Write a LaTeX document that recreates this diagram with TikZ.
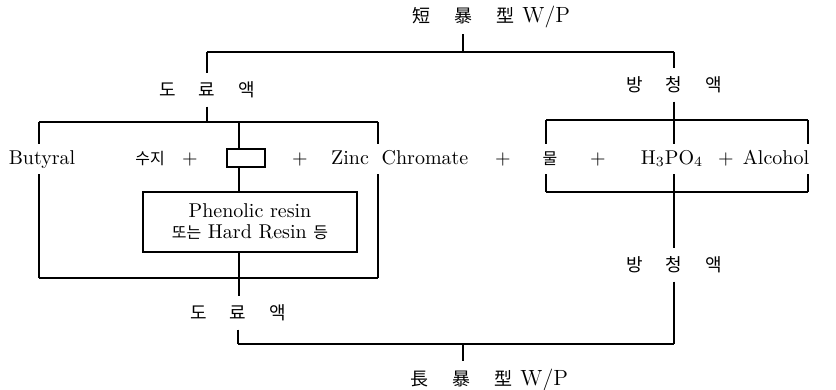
\documentclass[tikz,border=0pt]{standalone}
\usepackage{fontspec}
\newfontfamily\kr{Noto Sans CJK KR}
\usepackage{tikz}
\tikzset{item/.style = {anchor = base, inner sep = 3pt, text height = 7pt, text depth = 2pt}}
\tikzset{mixlabel/.style = {inner sep = 4pt, font = \kr\fontsize{9}{10}\selectfont}}
\tikzset{wptitle/.style = {anchor = west, inner sep = 0pt, font = \fontsize{11}{12}\selectfont}}
\tikzset{boxed/.style = {draw, line width = 0.6pt}}
\tikzset{edge/.style = {-, line width = 0.6pt}}
\newcommand{\kos}{\kr\fontsize{8}{10}\selectfont}
\newcommand{\kot}{\kr\fontsize{9}{10}\selectfont}

\begin{document}
\begin{tikzpicture}[x = 0.5pt, y = -0.5pt]
	\useasboundingbox (0, 0) rectangle (836, 390);

	% titles
	\node[wptitle] (stitle) at (412, 17) {{\kot 短\hspace{12pt}暴\hspace{12pt}型}\hspace{4pt}W/P};
	\node[wptitle] (ltitle) at (410, 380) {{\kot 長\hspace{12pt}暴\hspace{12pt}型}\hspace{4pt}W/P};

	% labels
	\node[mixlabel] (dl1) at (207, 90) {도\hspace{11.5pt}료\hspace{11.5pt}액};
	\node[mixlabel] (bc1) at (674, 85) {방\hspace{11.5pt}청\hspace{11.5pt}액};
	\node[mixlabel] (bc2) at (674, 265) {방\hspace{11.5pt}청\hspace{11.5pt}액};
	\node[mixlabel] (dl2) at (238, 313) {도\hspace{11.5pt}료\hspace{11.5pt}액};

	% main row
	\node[item] (but) at (42, 164) {Butyral};
	\node[item] (suji) at (150, 164) {\kos 수지};
	\node[item] (p1) at (190, 164) {$+$};
	\node[boxed, minimum width = 19pt, minimum height = 9pt, inner sep = 0pt] (sbox) at (246, 158) {};
	\node[item] (p2) at (300, 164) {$+$};
	\node[item] (zinc) at (350, 164) {Zinc};
	\node[item] (chrom) at (425, 164) {Chromate};
	\node[item] (p3) at (503, 164) {$+$};
	\node[item] (mul) at (550, 164) {\kos 물};
	\node[item] (p4) at (598, 164) {$+$};
	\node[item] (hpo) at (672, 164) {H$_3$PO$_4$};
	\node[item] (p5) at (726, 164) {$+$};
	\node[item] (alc) at (776, 164) {Alcohol};

	\node[boxed, align = center, minimum width = 107pt, minimum height = 30pt, inner sep = 2pt,
		font = \fontsize{10}{10.5}\selectfont] (phen) at (250, 222) {Phenolic resin\\{\kos 또는} Hard Resin {\kos 등}};

	% junctions
	\coordinate (tl) at (207, 52);
	\coordinate (tr) at (674, 52);
	\coordinate (tj) at (463, 52);
	\coordinate (bl) at (238, 344);
	\coordinate (br) at (674, 344);
	\coordinate (bj) at (463, 344);
	\coordinate (lsp) at (239, 122);

	% brackets
	\coordinate (lb1) at (39, 122);
	\coordinate (lb2) at (378, 122);
	\coordinate (lb3) at (39, 278);
	\coordinate (lb4) at (378, 278);
	\coordinate (rb1) at (546, 120);
	\coordinate (rb2) at (808, 120);
	\coordinate (rb3) at (546, 192);
	\coordinate (rb4) at (808, 192);

	\draw[edge] (lb1) -- (lb2);
	\draw[edge] (lb3) -- (lb4);
	\draw[edge] (lb1) -- (lb1 |- but.north);
	\draw[edge] (lb3) -- (lb3 |- but.south);
	\draw[edge] (lb2) -- (lb2 |- zinc.north);
	\draw[edge] (lb4) -- (lb4 |- zinc.south);
	\draw[edge] (rb1) -- (rb2);
	\draw[edge] (rb3) -- (rb4);
	\draw[edge] (rb1) -- (rb1 |- mul.north);
	\draw[edge] (rb3) -- (rb3 |- mul.south);
	\draw[edge] (rb2) -- (rb2 |- alc.north);
	\draw[edge] (rb4) -- (rb4 |- alc.south);

	% top tree
	\draw[edge, shorten <= 3pt] (tj |- stitle.south) -- (tj);
	\draw[edge] (tl) -- (tr);
	\draw[edge] (tl) -- (dl1.north);
	\draw[edge] (dl1.south) -- (dl1.south |- lb1);
	\draw[edge] (tr) -- (bc1.north);
	\draw[edge] (bc1.south) -- (bc1.south |- hpo.north);

	% left spine
	\draw[edge] (lsp) -- (lsp |- sbox.north);
	\draw[edge] (lsp |- sbox.south) -- (lsp |- phen.north);
	\draw[edge] (lsp |- phen.south) -- (lsp |- dl2.north);
	\draw[edge] (dl2.south) -- (bl);

	% bottom tree
	\draw[edge] (bc1.south |- hpo.south) -- (bc2.north);
	\draw[edge] (bc2.south) -- (br);
	\draw[edge] (bl) -- (br);
	\draw[edge, shorten >= 4pt] (bj) -- (bj |- ltitle.north);
\end{tikzpicture}
\end{document}
